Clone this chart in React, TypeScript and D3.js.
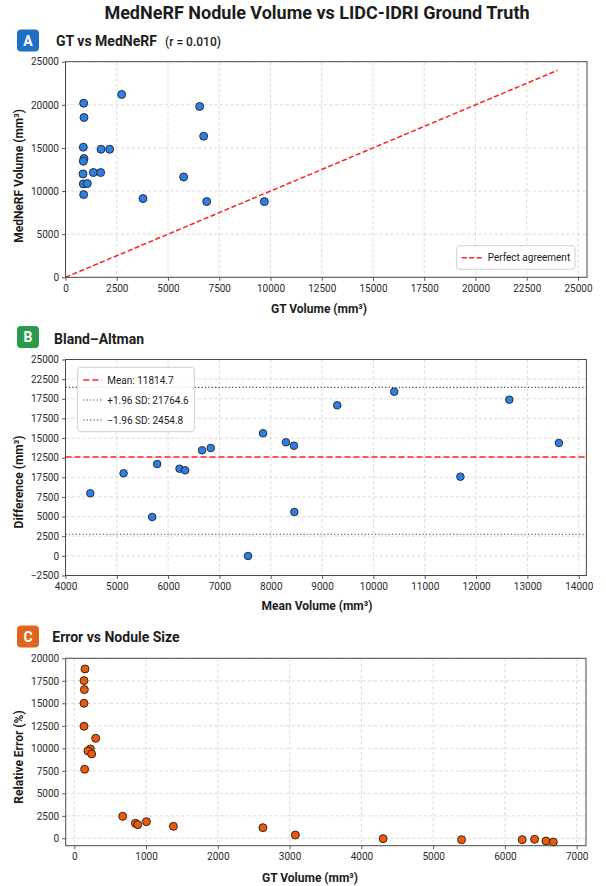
import { useEffect, useRef } from 'react'
import * as d3 from 'd3'

// Panel A: GT vs MedNeRF
const gtVolume = [886, 902, 2740, 870, 902, 870, 1732, 2154, 854, 1358, 1716, 870, 1065, 886, 3780, 5764, 6545, 6740, 6886, 9700]
const mednerfVolume = [20190, 18530, 21200, 15090, 13770, 13460, 14850, 14850, 11990, 12150, 12150, 10830, 10870, 9590, 9130, 11640, 19810, 16360, 8780, 8780]
const perfectLine = [0, 24000]
const aXTicks = [0, 2500, 5000, 7500, 10000, 12500, 15000, 17500, 20000, 22500, 25000]
const aYTicks = [0, 5000, 10000, 15000, 20000, 25000]

// Panel B: Bland-Altman
const baMean = [4483, 5132, 5689, 5786, 6222, 6331, 6661, 6831, 7557, 7849, 8296, 8452, 8459, 9295, 10405, 11695, 12648, 13615]
const baDiff = [7966, 10513, 4949, 11696, 11098, 10894, 13441, 13733, -16, 15605, 14459, 14026, 5586, 19169, 20901, 10080, 19882, 14370]
const baRefValues = [12590, 21460, 2750]
const baLegendLabels = ['Mean: 11814.7', '+1.96 SD: 21764.6', '\u22121.96 SD: 2454.8']
const bXTicks = [4000, 5000, 6000, 7000, 8000, 9000, 10000, 11000, 12000, 13000, 14000]
const bYTicks = [-2500, 0, 2500, 5000, 7500, 10000, 12500, 15000, 17500, 20000, 22500, 25000]
const bYTickLabels = ['\u22122500', '0', '2500', '5000', '7500', '17500', '12500', '15000', '17500', '17500', '22500', '25000']

// Panel C: Error vs Nodule Size
const errGt = [149, 135, 140, 135, 135, 298, 223, 190, 242, 144, 674, 851, 884, 1005, 1381, 2628, 3080, 4303, 5396, 6241, 6414, 6572, 6674]
const errRel = [18815, 17520, 16520, 15000, 12445, 11110, 9930, 9700, 9370, 7670, 2445, 1667, 1520, 1850, 1333, 1185, 370, -37, -150, -150, -110, -300, -410]
const cXTicks = [0, 1000, 2000, 3000, 4000, 5000, 6000, 7000]
const cYTicks = [0, 2500, 5000, 7500, 10000, 12500, 15000, 17500, 20000]

const FONT = 'Roboto, "Open Sans", sans-serif'
const INK = '#1c1c1c'

const drawFrame = (g, cfg) => {
  const { x, y, left, right, top, bottom, xTicks, yTicks, yLabels } = cfg
  // grid
  g.append('g')
    .selectAll('line')
    .data(xTicks)
    .join('line')
    .attr('x1', (d) => x(d))
    .attr('x2', (d) => x(d))
    .attr('y1', top)
    .attr('y2', bottom)
    .attr('stroke', '#d4d4d4')
    .attr('stroke-width', 0.8)
    .attr('stroke-dasharray', '3.5 2')
  g.append('g')
    .selectAll('line')
    .data(yTicks)
    .join('line')
    .attr('x1', left)
    .attr('x2', right)
    .attr('y1', (d) => y(d))
    .attr('y2', (d) => y(d))
    .attr('stroke', '#d4d4d4')
    .attr('stroke-width', 0.8)
    .attr('stroke-dasharray', '3.5 2')

  const xAxis = d3.axisBottom(x).tickValues(xTicks).tickSize(3.5).tickPadding(4).tickFormat((d) => String(d))
  const yAxis = d3
    .axisLeft(y)
    .tickValues(yTicks)
    .tickSize(3.5)
    .tickPadding(3)
    .tickFormat((d, i) => (yLabels ? yLabels[i] : String(d).replace('-', '\u2212')))

  const styleAxis = (a) => {
    a.select('.domain').remove()
    a.selectAll('.tick line').attr('stroke', '#333').attr('stroke-width', 0.8)
    a.selectAll('.tick text').attr('fill', '#2a2a2a').style('font-size', '10px').style('font-family', FONT)
  }
  g.append('g').attr('transform', `translate(0,${bottom})`).call(xAxis).call(styleAxis)
  g.append('g').attr('transform', `translate(${left},0)`).call(yAxis).call(styleAxis)
}

const drawBorder = (g, { left, right, top, bottom }) => {
  g.append('rect')
    .attr('x', left)
    .attr('y', top)
    .attr('width', right - left)
    .attr('height', bottom - top)
    .attr('fill', 'none')
    .attr('stroke', '#4a4a4a')
    .attr('stroke-width', 1)
}

const drawHeader = (g, letter, color, cy, title, tx, ty) => {
  g.append('rect')
    .attr('x', 17)
    .attr('y', cy - 11)
    .attr('width', 22)
    .attr('height', 22)
    .attr('rx', 4)
    .attr('fill', color)
  g.append('text')
    .attr('x', 28)
    .attr('y', cy + 5)
    .attr('text-anchor', 'middle')
    .attr('fill', '#fff')
    .style('font-family', FONT)
    .style('font-weight', '700')
    .style('font-size', '14px')
    .text(letter)
  g.append('text')
    .attr('x', tx)
    .attr('y', ty)
    .attr('fill', INK)
    .style('font-family', FONT)
    .style('font-weight', '700')
    .style('font-size', '14px')
    .text(title)
}

const drawAxisTitles = (g, xText, xx, xy, yText, yy) => {
  g.append('text')
    .attr('x', xx)
    .attr('y', xy)
    .attr('text-anchor', 'middle')
    .attr('fill', INK)
    .style('font-family', FONT)
    .style('font-weight', '700')
    .style('font-size', '12px')
    .text(xText)
  g.append('text')
    .attr('transform', `translate(23,${yy}) rotate(-90)`)
    .attr('text-anchor', 'middle')
    .attr('fill', INK)
    .style('font-family', FONT)
    .style('font-weight', '700')
    .style('font-size', '12px')
    .text(yText)
}

const App = () => {
  const svgRef = useRef(null)
  const width = 606
  const height = 886

  useEffect(() => {
    const svg = d3.select(svgRef.current)
    svg.selectAll('*').remove()

    svg.append('rect').attr('width', width).attr('height', height).attr('fill', '#fff')

    svg.append('text')
      .attr('x', 317)
      .attr('y', 19)
      .attr('text-anchor', 'middle')
      .attr('fill', INK)
      .style('font-family', FONT)
      .style('font-weight', '700')
      .style('font-size', '18px')
      .text('MedNeRF Nodule Volume vs LIDC-IDRI Ground Truth')

    // ---------- Panel A ----------
    const a = { left: 65.5, right: 587, top: 61.7, bottom: 277.3 }
    const ax = d3.scaleLinear([0, 25440], [a.left, a.right])
    const ay = d3.scaleLinear([0, 25000], [a.bottom, a.top])
    const gA = svg.append('g')
    drawHeader(gA, 'A', '#1f6fc5', 40.5, 'GT vs MedNeRF', 56, 46)
    gA.append('text')
      .attr('x', 165)
      .attr('y', 46)
      .attr('fill', INK)
      .style('font-family', FONT)
      .style('font-weight', '500')
      .style('font-size', '12px')
      .text('(r = 0.010)')
    drawFrame(gA, { ...a, x: ax, y: ay, xTicks: aXTicks, yTicks: aYTicks })
    gA.append('line')
      .attr('x1', ax(perfectLine[0]))
      .attr('y1', ay(perfectLine[0]))
      .attr('x2', ax(perfectLine[1]))
      .attr('y2', ay(perfectLine[1]))
      .attr('stroke', '#ff1f1f')
      .attr('stroke-width', 1.5)
      .attr('stroke-dasharray', '5 2.5')
    gA.append('g')
      .selectAll('circle')
      .data(gtVolume)
      .join('circle')
      .attr('cx', (d) => ax(d))
      .attr('cy', (d, i) => ay(mednerfVolume[i]))
      .attr('r', 4)
      .attr('fill', '#2f7fe0')
      .attr('stroke', '#1a2233')
      .attr('stroke-width', 0.9)
    drawBorder(gA, a)
    // legend
    gA.append('rect')
      .attr('x', 456.7)
      .attr('y', 245.7)
      .attr('width', 118.3)
      .attr('height', 23.6)
      .attr('rx', 3)
      .attr('fill', '#fff')
      .attr('fill-opacity', 0.85)
      .attr('stroke', '#d0d0d0')
    gA.append('line')
      .attr('x1', 461.7)
      .attr('x2', 481.7)
      .attr('y1', 257.7)
      .attr('y2', 257.7)
      .attr('stroke', '#ff1f1f')
      .attr('stroke-width', 1.5)
      .attr('stroke-dasharray', '5 2.5')
    gA.append('text')
      .attr('x', 487.7)
      .attr('y', 261.2)
      .attr('fill', INK)
      .style('font-family', FONT)
      .style('font-size', '10px')
      .text('Perfect agreement')
    drawAxisTitles(gA, 'GT Volume (mm\u00b3)', 319, 313, 'MedNeRF Volume (mm\u00b3)', 176)

    // ---------- Panel B ----------
    const b = { left: 65.5, right: 586.4, top: 359.5, bottom: 575.5 }
    const bx = d3.scaleLinear([4000, 14150], [b.left, b.right])
    const by = d3.scaleLinear([-2500, 25000], [b.bottom, b.top])
    const gB = svg.append('g')
    drawHeader(gB, 'B', '#2a9a4a', 337, 'Bland\u2013Altman', 54, 344)
    drawFrame(gB, { ...b, x: bx, y: by, xTicks: bXTicks, yTicks: bYTicks, yLabels: bYTickLabels })
    const refStyles = [
      { color: '#ff1f1f', dash: '6 3', w: 1.5 },
      { color: '#444', dash: '1.2 2.2', w: 1.2 },
      { color: '#444', dash: '1.2 2.2', w: 1.2 },
    ]
    gB.append('g')
      .selectAll('line')
      .data(baRefValues)
      .join('line')
      .attr('x1', b.left)
      .attr('x2', b.right)
      .attr('y1', (d) => by(d))
      .attr('y2', (d) => by(d))
      .attr('stroke', (d, i) => refStyles[i].color)
      .attr('stroke-width', (d, i) => refStyles[i].w)
      .attr('stroke-dasharray', (d, i) => refStyles[i].dash)
    gB.append('g')
      .selectAll('circle')
      .data(baMean)
      .join('circle')
      .attr('cx', (d) => bx(d))
      .attr('cy', (d, i) => by(baDiff[i]))
      .attr('r', 3.8)
      .attr('fill', '#2f7fe0')
      .attr('stroke', '#1a2233')
      .attr('stroke-width', 0.9)
    drawBorder(gB, b)
    gB.append('rect')
      .attr('x', 77.7)
      .attr('y', 367.3)
      .attr('width', 116.6)
      .attr('height', 64.4)
      .attr('rx', 3)
      .attr('fill', '#fff')
      .attr('fill-opacity', 0.85)
      .attr('stroke', '#d0d0d0')
    const legendRows = gB.append('g')
      .selectAll('g')
      .data(baLegendLabels)
      .join('g')
      .attr('transform', (d, i) => `translate(0,${380 + i * 20})`)
    legendRows.append('line')
      .attr('x1', 83.3)
      .attr('x2', 101.7)
      .attr('stroke', (d, i) => refStyles[i].color)
      .attr('stroke-width', (d, i) => refStyles[i].w)
      .attr('stroke-dasharray', (d, i) => refStyles[i].dash)
    legendRows.append('text')
      .attr('x', 107.3)
      .attr('y', 3.5)
      .attr('fill', INK)
      .style('font-family', FONT)
      .style('font-size', '10px')
      .text((d) => d)
    drawAxisTitles(gB, 'Mean Volume (mm\u00b3)', 317, 610, 'Difference (mm\u00b3)', 482)

    // ---------- Panel C ----------
    const c = { left: 65.7, right: 586, top: 658.3, bottom: 845.7 }
    const cx = d3.scaleLinear([-120, 7130], [c.left, c.right])
    const cy = d3.scaleLinear([-820, 20000], [c.bottom, c.top])
    const gC = svg.append('g')
    drawHeader(gC, 'C', '#e0661f', 636.5, 'Error vs Nodule Size', 52.3, 642.3)
    drawFrame(gC, { ...c, x: cx, y: cy, xTicks: cXTicks, yTicks: cYTicks })
    gC.append('g')
      .selectAll('circle')
      .data(errGt)
      .join('circle')
      .attr('cx', (d) => cx(d))
      .attr('cy', (d, i) => cy(errRel[i]))
      .attr('r', 4)
      .attr('fill', '#ea5a0c')
      .attr('stroke', '#2a1a10')
      .attr('stroke-width', 0.9)
    drawBorder(gC, c)
    drawAxisTitles(gC, 'GT Volume (mm\u00b3)', 310, 881.5, 'Relative Error (%)', 757)
  }, [])

  return (
    <svg
      ref={svgRef}
      width={width}
      height={height}
      style={{ position: 'absolute', left: 0, top: 0 }}
    />
  )
}

export default App
